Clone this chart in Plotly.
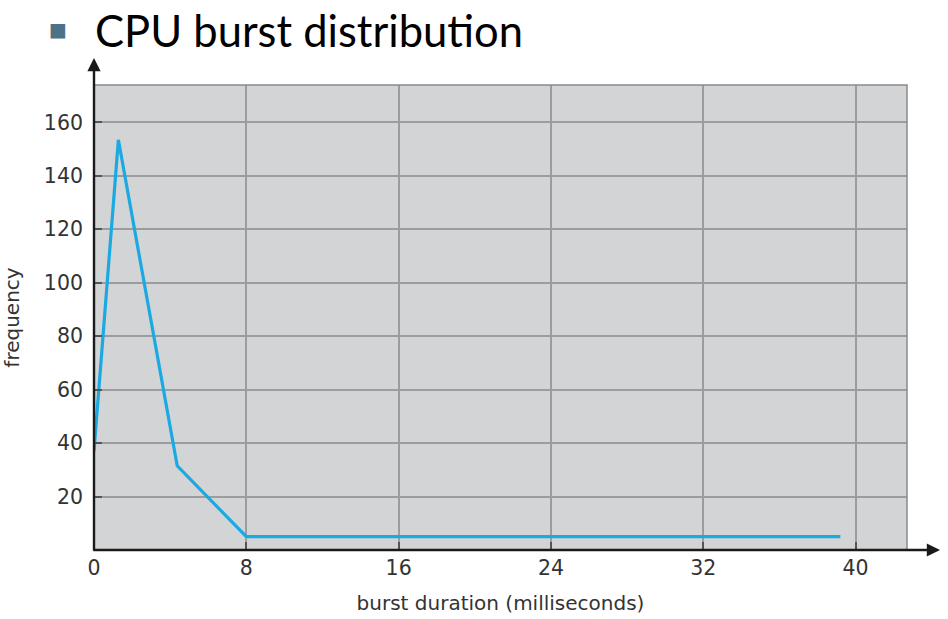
import plotly.graph_objects as go

# Data
burst_ms = [0, 1.28, 4.37, 8, 39.2]
frequency = [37, 153.5, 31.5, 5, 5]

x_ticks = [0, 8, 16, 24, 32, 40]
y_ticks = [20, 40, 60, 80, 100, 120, 140, 160]

title_text = "CPU burst distribution"
x_title = "burst duration (milliseconds)"
y_title = "frequency"

fig = go.Figure()
fig.add_trace(go.Scatter(
    x=burst_ms, y=frequency, mode="lines",
    line=dict(color="#1ba9e1", width=3.2),
    hoverinfo="skip", showlegend=False,
))

axis_font = dict(family="DejaVu Sans, sans-serif", size=20.5, color="#333333")

fig.update_layout(
    width=948, height=619,
    margin=dict(l=94, r=41, t=85, b=69),
    paper_bgcolor="white",
    plot_bgcolor="#d3d4d6",
    font=axis_font,
    showlegend=False,
    xaxis=dict(
        range=[0, 42.7], tickvals=x_ticks, ticktext=[str(v) for v in x_ticks],
        showgrid=True, gridcolor="#9b9c9e", gridwidth=2.4,
        zeroline=False, showline=False, automargin=False,
        ticks="inside", ticklen=8, tickcolor="#555555", tickwidth=2,
        ticklabelstandoff=3,
        title=dict(text=x_title, font=dict(size=20, color="#333333"), standoff=17),
        fixedrange=True,
    ),
    yaxis=dict(
        range=[0, 174], tickvals=y_ticks, ticktext=[str(v) for v in y_ticks],
        showgrid=True, gridcolor="#9b9c9e", gridwidth=2.4,
        zeroline=False, showline=False, automargin=False,
        ticks="inside", ticklen=8, tickcolor="#555555", tickwidth=2,
        ticklabelstandoff=10,
        title=dict(text=y_title, font=dict(size=20, color="#333333"), standoff=20),
        fixedrange=True,
    ),
    shapes=[
        dict(type="rect", xref="paper", yref="paper", x0=0, y0=0, x1=1, y1=1,
             line=dict(color="#8a8a8a", width=1.5), layer="above"),
    ],
    annotations=[
        # y axis with arrow
        dict(xref="paper", yref="paper", x=0, y=1.058, ax=0, ay=494,
             axref="pixel", ayref="pixel", text="", showarrow=True,
             arrowhead=2, arrowsize=1.1, arrowwidth=2.4, arrowcolor="#1a1a1a"),
        # x axis with arrow
        dict(xref="paper", yref="paper", x=1.0406, y=0, ax=-848, ay=0,
             axref="pixel", ayref="pixel", text="", showarrow=True,
             arrowhead=2, arrowsize=1.1, arrowwidth=2.4, arrowcolor="#1a1a1a"),
        # title bullet
        dict(xref="paper", yref="paper", x=-0.0437, y=1.120, xanchor="center", yanchor="middle",
             text="■", showarrow=False, font=dict(size=19, color="#4b7287", family="DejaVu Sans")),
        # title
        dict(xref="paper", yref="paper", x=-0.001, y=1.119, xanchor="left", yanchor="middle",
             text=title_text, showarrow=False,
             font=dict(size=43.5, color="#000000", family="Lato, Open Sans, sans-serif")),
    ],
)

fig.write_html("out.html", config={"displayModeBar": False},
               post_script="document.body.style.margin='0';")
